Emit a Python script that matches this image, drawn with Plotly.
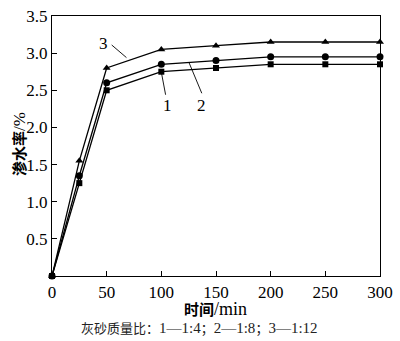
import plotly.graph_objects as go

# Time points (min) and water seepage rate (%) for three lime-sand ratios
time_min = [0, 25, 50, 100, 150, 200, 250, 300]
rate_1 = [0, 1.25, 2.50, 2.75, 2.80, 2.85, 2.85, 2.85]   # 1:4
rate_2 = [0, 1.35, 2.60, 2.85, 2.90, 2.95, 2.95, 2.95]   # 1:8
rate_3 = [0, 1.55, 2.80, 3.05, 3.10, 3.15, 3.15, 3.15]   # 1:12

x_ticks = [0, 50, 100, 150, 200, 250, 300]
y_ticks = [0.5, 1.0, 1.5, 2.0, 2.5, 3.0, 3.5]
y_tick_text = ["0.5", "1.0", "1.5", "2.0", "2.5", "3.0", "3.5"]

SERIF = "Liberation Serif, Times New Roman, serif"
CJK = "Noto Sans CJK SC"
MIXED = SERIF + ", " + CJK

fig = go.Figure()
for ys, sym, sz in [(rate_1, "square", 6), (rate_2, "circle", 7), (rate_3, "triangle-up", 7)]:
    fig.add_trace(go.Scatter(
        x=time_min, y=ys, mode="lines+markers",
        line=dict(color="black", width=1.3),
        marker=dict(symbol=sym, size=sz, color="black"),
        showlegend=False, cliponaxis=False,
    ))

# curve labels with leader lines
labels = [
    ("3", 47.5, 3.13, (54.6, 3.11, 68.1, 2.94)),
    ("1", 105.7, 2.30, (100.3, 2.72, 103.9, 2.44)),
    ("2", 137.0, 2.30, (125.4, 2.87, 137.0, 2.46)),
]
for txt, tx, ty, (x0, y0, x1, y1) in labels:
    fig.add_annotation(x=tx, y=ty, text=txt, showarrow=False,
                       font=dict(family=SERIF, size=17, color="black"))
    fig.add_shape(type="line", x0=x0, y0=y0, x1=x1, y1=y1,
                  line=dict(color="black", width=0.9))

axis_common = dict(
    showline=True, linecolor="black", linewidth=1.2, mirror=True,
    ticks="inside", ticklen=5, tickcolor="black", tickwidth=1,
    showgrid=False, zeroline=False, ticklabeloverflow="allow",
    tickfont=dict(family=SERIF, size=17, color="black"),
)

fig.update_xaxes(range=[0, 300], tickvals=x_ticks, **axis_common)
fig.update_yaxes(range=[0, 3.5], tickvals=y_ticks, ticktext=y_tick_text, **axis_common)

# axis titles
fig.add_annotation(xref="paper", yref="paper", x=0.498, y=-0.127, yanchor="middle",
                   text="<b>时间</b><span style='font-size:18px'>/min</span>", showarrow=False,
                   font=dict(family=MIXED, size=15, color="black"))
fig.add_annotation(xref="paper", yref="paper", x=-0.134, y=0.506, textangle=-90,
                   text="<b>渗水率</b><span style='font-size:17px'>/%</span>", showarrow=False,
                   font=dict(family=MIXED, size=15, color="black"))
caption = ("灰砂质量比：<span style='font-size:15px'>1—1:4</span>；"
           "<span style='font-size:15px'>2—1:8</span>；"
           "<span style='font-size:15px'>3—1:12</span>")
fig.add_annotation(xref="paper", yref="paper", x=0.45, y=-0.202, yanchor="middle",
                   text=caption, showarrow=False,
                   font=dict(family=MIXED, size=13, color="#222222"))

fig.update_layout(
    width=400, height=341,
    margin=dict(l=52, r=13, t=7, b=65),
    plot_bgcolor="white", paper_bgcolor="white",
)

fig.write_html("out.html")
